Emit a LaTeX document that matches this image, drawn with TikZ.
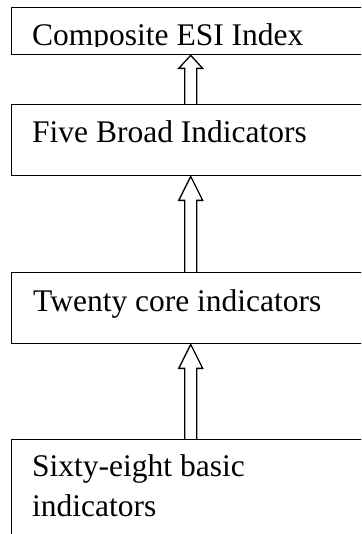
\documentclass[tikz,border=0pt]{standalone}
\usepackage{fontspec}
\setmainfont{Liberation Serif}
\usetikzlibrary{calc}

\tikzset{
  box/.style={draw, line width=1.4pt, minimum width=358pt, inner sep=0pt, anchor=north west},
  lbl/.style={anchor=base west, inner sep=0pt, align=left, font=\fontsize{31.5}{40}\selectfont},
  hollow/.style={draw, line width=1.3pt, fill=white}
}

\begin{document}
\begin{tikzpicture}[x=1pt,y=1pt]
        \useasboundingbox (0,0) rectangle (361,534);
        \clip (0,0) rectangle (361,534);

        \node[box, minimum height=47pt] (esi) at (11,527) {};
        \node[box, minimum height=71pt] (broad) at (11,430) {};
        \node[box, minimum height=71pt] (core) at (11,262) {};
        \node[box, minimum height=120pt] (basic) at (11,95) {};

        % top label is cut off by the box
        \begin{scope}
          \clip (esi.north west) rectangle ($(esi.south east)+(0,8.5)$);
          \node[lbl] (esitext) at ($(esi.north west)+(21,-39)$) {Composite ESI Index};
        \end{scope}
        \node[lbl] (broadtext) at ($(broad.north west)+(21,-39)$) {Five Broad Indicators};
        \node[lbl] (coretext) at ($(core.north west)+(22,-40)$) {Twenty core indicators};
        \node[lbl] (basictext) at ($(basic.north west)+(21,-78)$) {Sixty-eight basic\\indicators};

        \draw[hollow] ($(broad.north)+(-6,0)$) -- ($(esi.south)+(-6,-13)$) -- ($(esi.south)+(-12,-13)$)
          -- (esi.south) -- ($(esi.south)+(12,-13)$) -- ($(esi.south)+(6,-13)$) -- ($(broad.north)+(6,0)$);
        \draw[hollow] ($(core.north)+(-6,0)$) -- ($(broad.south)+(-6,-24)$) -- ($(broad.south)+(-12,-24)$)
          -- (broad.south) -- ($(broad.south)+(12,-24)$) -- ($(broad.south)+(6,-24)$) -- ($(core.north)+(6,0)$);
        \draw[hollow] ($(basic.north)+(-6,0)$) -- ($(core.south)+(-6,-24)$) -- ($(core.south)+(-12,-24)$)
          -- (core.south) -- ($(core.south)+(12,-24)$) -- ($(core.south)+(6,-24)$) -- ($(basic.north)+(6,0)$);
\end{tikzpicture}
\end{document}
